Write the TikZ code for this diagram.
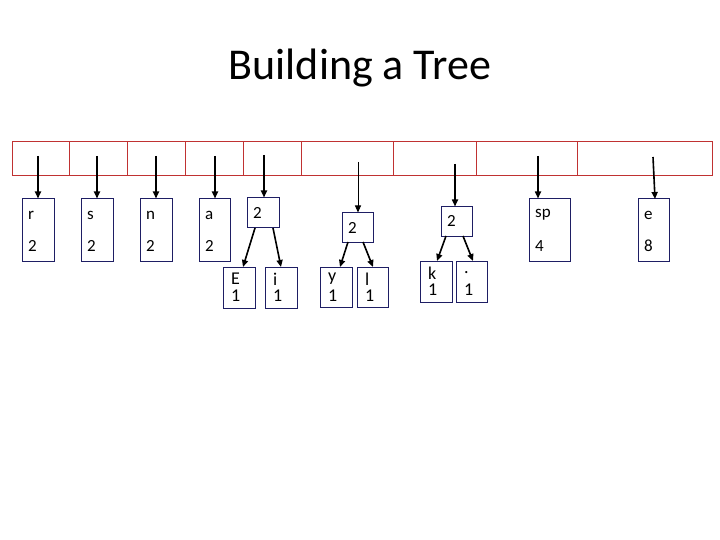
\documentclass[tikz,border=0pt]{standalone}
\usepackage{fontspec}
\setmainfont{Carlito}
\usetikzlibrary{arrows.meta}
\definecolor{rowred}{RGB}{192,50,50}
\definecolor{boxnavy}{RGB}{30,30,100}
\begin{document}
\begin{tikzpicture}[x=1pt,y=-1pt,
  cell/.style={draw=rowred,line width=0.8pt,minimum height=34pt,inner sep=0pt},
  box/.style={draw=boxnavy,line width=1pt,inner sep=0pt},
  lbl/.style={font=\fontsize{17}{17}\selectfont,inner sep=0pt,anchor=west},
  arr/.style={line width=1.6pt,-{Triangle[length=7pt,width=6pt]}}]
\useasboundingbox (0,0) rectangle (720,540);
\node[font=\fontsize{44}{44}\selectfont] (title) at (360,68) {Building a Tree};
% red row
\foreach \a/\b/\n in {12/69/c1,69/127/c2,127/185/c3,185/243/c4,243/301/c5,301/393/c6,393/476/c7,476/577/c8,577/712/c9}{
  \node[cell,minimum width={\b-\a}] (\n) at ({(\a+\b)/2},158) {};
}
% leaf boxes with letter and count
\foreach \xa/\xb/\n/\t/\c in {22/54/r/r/2,81/113/s/s/2,140/172/n/n/2,199/230/a/a/2,529/570/sp/sp/4,638/669/e/e/8}{
  \node[box,minimum width={\xb-\xa},minimum height=62pt] (\n) at ({(\xa+\xb)/2},230) {};
  \node[lbl] at ({\xa+6},215) {\t};
  \node[lbl] at ({\xa+6},246) {\c};
}
% internal 2 boxes
\node[box,minimum width=32pt,minimum height=30pt] (t1) at (263,213) {};
\node[lbl] at (253,213) {2};
\node[box,minimum width=31pt,minimum height=29pt] (t2) at (357.5,227.5) {};
\node[lbl] at (348,228) {2};
\node[box,minimum width=31pt,minimum height=29pt] (t3) at (456.5,221.5) {};
\node[lbl] at (447,221) {2};
% small leaves
\foreach \xa/\xb/\ya/\yb/\n/\t in {223/255/267/308/E/E,265/297/267/308/i/i,320/352/267/307/y/y,357/388/267/307/l/l,420/452/261/302/k/k,456/487/261/302/d/.}{
  \node[box,minimum width={\xb-\xa},minimum height={\yb-\ya}] (\n) at ({(\xa+\xb)/2},{(\ya+\yb)/2}) {};
  \node[lbl,font=\fontsize{18}{18}\selectfont] at ({\xa+8},{\ya+12}) {\t};
  \node[lbl,font=\fontsize{18}{18}\selectfont] at ({\xa+8},{\ya+29}) {1};
}
% arrows from row
\draw[arr] (38,156) -- (r.north -| 38,0);
\draw[arr] (97,156) -- (s.north -| 97,0);
\draw[arr] (156,156) -- (n.north -| 156,0);
\draw[arr] (215,156) -- (a.north -| 215,0);
\draw[arr] (264,155) -- (t1.north -| 264,0);
\draw[arr,line width=1pt] (358,162) -- (t2.north -| 358,0);
\draw[arr] (455,164) -- (t3.north -| 455,0);
\draw[arr] (538,156) -- (sp.north -| 538,0);
\draw[arr] (653,157) -- (655,199);
% child arrows
\draw[arr] (255,228) -- (243,267);
\draw[arr] (273,228) -- (281,267);
\draw[arr] (348,242) -- (340,267);
\draw[arr] (363,242) -- (373,267);
\draw[arr] (446,236) -- (437,261);
\draw[arr] (463,236) -- (473,261);
\end{tikzpicture}
\end{document}
